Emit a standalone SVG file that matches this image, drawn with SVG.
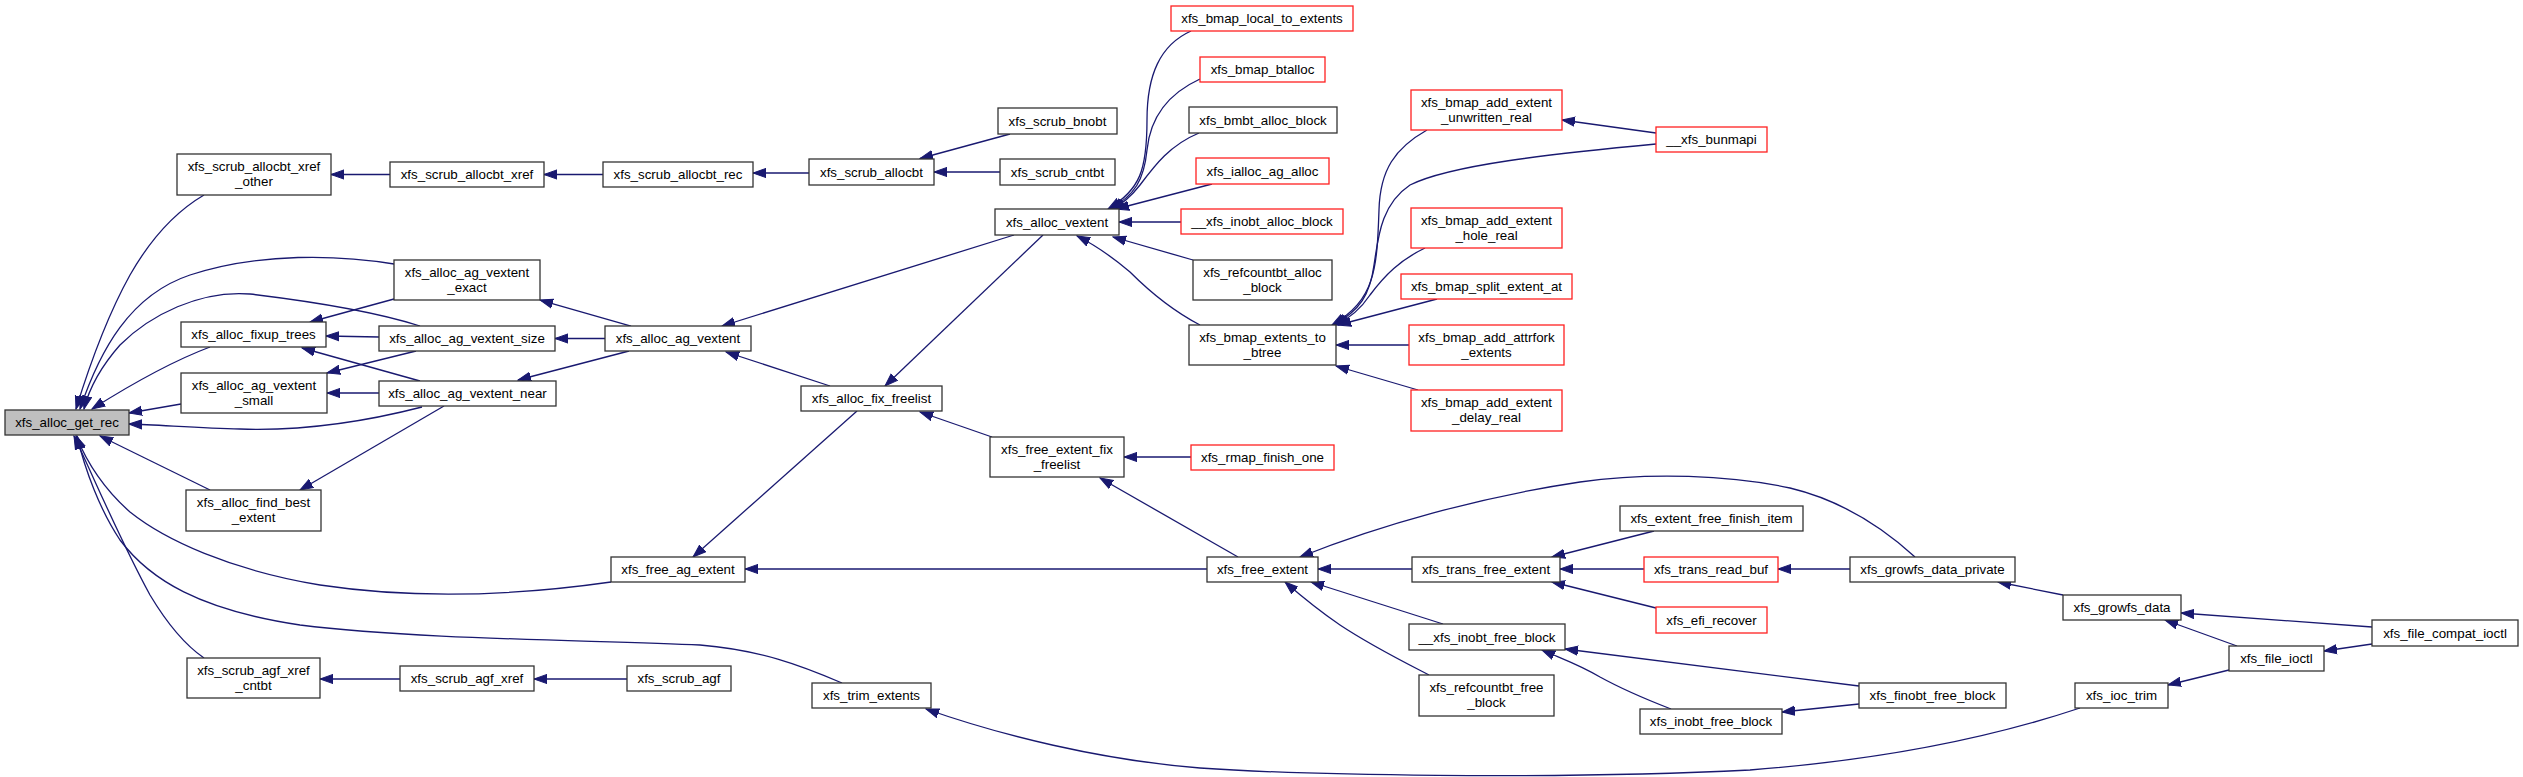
<svg xmlns="http://www.w3.org/2000/svg" width="2523" height="777" viewBox="0 0 2523 777">
<style>
.node rect{fill:#fff;stroke:#333;stroke-width:1.3}
.node.red rect{stroke:#ff2020}
.node.root rect{fill:#bfbfbf}
.node text{font-family:"Liberation Sans",Arial,sans-serif;font-size:13.33px;text-anchor:middle;fill:#000}
#edges path{fill:none;stroke:#191970;stroke-width:1.3;marker-end:url(#ah)}
</style>
<defs>
<marker id="ah" markerUnits="userSpaceOnUse" markerWidth="14" markerHeight="11" viewBox="0 0 14 11" refX="13" refY="5.5" orient="auto">
<path d="M0,0.9 L13,5.5 L0,10.1 z" fill="#191970" stroke="#191970" stroke-width="1"/>
</marker>
</defs>
<rect width="2523" height="777" fill="#fff"/>
<g id="edges">
<path d="M204,195 C175,212 150,240 130,275 C105,320 88,370 76,409"/>
<path d="M394,264 C340,255 260,252 190,275 C130,295 100,350 80,409"/>
<path d="M420,326 C370,310 300,300 250,294 C200,290 150,315 120,345 C105,362 90,385 84,409"/>
<path d="M210,347 C170,362 130,385 92,409"/>
<path d="M181,404 L129,413"/>
<path d="M422,407 C360,423 300,431 240,429 C200,428 160,425 129,424"/>
<path d="M210,490 L100,436"/>
<path d="M611,582 C520,595 420,600 320,585 C230,570 165,540 130,512 C105,490 88,465 76,436"/>
<path d="M842,683 C800,665 760,650 700,645 C600,640 420,640 300,625 C200,610 150,580 120,540 C100,510 85,470 77,436"/>
<path d="M204,658 C185,645 165,620 150,595 C120,540 95,480 74,436"/>
<path d="M390,174.5 L331,174.5"/>
<path d="M603,174.5 L544,174.5"/>
<path d="M809,173 L753,173"/>
<path d="M1010,134 L920,158.5"/>
<path d="M1000,172 L934,172"/>
<path d="M394,299 L310,322"/>
<path d="M379,337 L326,336"/>
<path d="M420,381 L302,348"/>
<path d="M416,351 L327,373"/>
<path d="M379,393 L327,393"/>
<path d="M631,326 L540,300"/>
<path d="M605,338.5 L555,338.5"/>
<path d="M629,351 L518,380"/>
<path d="M444,406 L300,490"/>
<path d="M1014,235 L722,326"/>
<path d="M830,386 L726,352"/>
<path d="M1043,235 L885,386"/>
<path d="M992,437 L920,412"/>
<path d="M857,411 L693,557"/>
<path d="M1207,569 L745,569"/>
<path d="M1191,457 L1124,457"/>
<path d="M1238,557 L1100,478"/>
<path d="M1191,31 C1160,45 1147,75 1147,120 C1147,170 1140,190 1108,209"/>
<path d="M1200,79 C1165,95 1150,120 1147,150 C1144,180 1135,195 1110,209"/>
<path d="M1199,133 C1170,145 1155,165 1140,185 C1130,198 1122,204 1112,209"/>
<path d="M1212,184 L1116,209"/>
<path d="M1181,222 L1119,222"/>
<path d="M1193,260 L1113,237"/>
<path d="M1200,325 C1175,312 1150,292 1130,272 C1110,255 1095,245 1077,236"/>
<path d="M1427,130 C1395,148 1380,170 1379,210 C1377,270 1375,300 1332,325"/>
<path d="M1656,144 C1550,154 1450,165 1410,185 C1380,205 1378,240 1374,265 C1370,295 1360,310 1334,325"/>
<path d="M1425,248 C1400,260 1385,275 1370,295 C1360,310 1350,318 1336,325"/>
<path d="M1437,299 L1338,325"/>
<path d="M1409,345 L1336,345"/>
<path d="M1418,390 L1336,366"/>
<path d="M1656,133 L1562,120"/>
<path d="M1412,569 L1318,569"/>
<path d="M1915,557 C1880,525 1840,500 1790,488 C1730,475 1650,472 1580,482 C1480,497 1380,525 1300,557"/>
<path d="M1443,624 L1311,582"/>
<path d="M1429,675 C1400,660 1370,645 1340,625 C1315,608 1300,595 1285,582"/>
<path d="M1654,531 L1552,557"/>
<path d="M1644,569 L1560,569"/>
<path d="M1656,608 L1552,582"/>
<path d="M1850,569 L1778,569"/>
<path d="M1859,686 L1565,649"/>
<path d="M1671,709 C1640,697 1620,688 1600,677 C1580,665 1565,660 1542,650"/>
<path d="M1859,704 L1782,712"/>
<path d="M2063,595 L1998,582"/>
<path d="M2372,627 L2181,613"/>
<path d="M2237,646 L2165,620"/>
<path d="M2372,644 L2324,651"/>
<path d="M2229,670 L2168,685"/>
<path d="M2080,708 C1990,738 1880,760 1750,770 C1550,780 1300,775 1200,768 C1100,760 1000,735 926,709"/>
<path d="M400,679 L320,679"/>
<path d="M627,679 L534,679"/>
</g>
<g id="n_get_rec" class="node root"><rect x="5" y="410" width="124" height="25"/><text x="67" y="427.2">xfs_alloc_get_rec</text></g>
<g id="n_xref_other" class="node"><rect x="177" y="154" width="154" height="41"/><text x="254" y="170.5">xfs_scrub_allocbt_xref</text><text x="254" y="185.5">_other</text></g>
<g id="n_xref" class="node"><rect x="390" y="162" width="154" height="25"/><text x="467" y="179.2">xfs_scrub_allocbt_xref</text></g>
<g id="n_rec" class="node"><rect x="603" y="162" width="150" height="25"/><text x="678" y="179.2">xfs_scrub_allocbt_rec</text></g>
<g id="n_allocbt" class="node"><rect x="809" y="159" width="125" height="26"/><text x="871.5" y="176.7">xfs_scrub_allocbt</text></g>
<g id="n_bnobt" class="node"><rect x="998" y="108" width="119" height="26"/><text x="1057.5" y="125.7">xfs_scrub_bnobt</text></g>
<g id="n_cntbt" class="node"><rect x="1000" y="159" width="115" height="26"/><text x="1057.5" y="176.7">xfs_scrub_cntbt</text></g>
<g id="n_exact" class="node"><rect x="394" y="260" width="146" height="40"/><text x="467" y="276.5">xfs_alloc_ag_vextent</text><text x="467" y="291.5">_exact</text></g>
<g id="n_fixup" class="node"><rect x="181" y="322" width="145" height="25"/><text x="253.5" y="339.2">xfs_alloc_fixup_trees</text></g>
<g id="n_size" class="node"><rect x="379" y="326" width="176" height="25"/><text x="467" y="343.2">xfs_alloc_ag_vextent_size</text></g>
<g id="n_ag_vextent" class="node"><rect x="605" y="326" width="146" height="25"/><text x="678" y="343.2">xfs_alloc_ag_vextent</text></g>
<g id="n_small" class="node"><rect x="181" y="373" width="146" height="40"/><text x="254" y="389.5">xfs_alloc_ag_vextent</text><text x="254" y="404.5">_small</text></g>
<g id="n_near" class="node"><rect x="379" y="381" width="177" height="25"/><text x="467.5" y="398.2">xfs_alloc_ag_vextent_near</text></g>
<g id="n_find_best" class="node"><rect x="186" y="490" width="135" height="41"/><text x="253.5" y="506.5">xfs_alloc_find_best</text><text x="253.5" y="521.5">_extent</text></g>
<g id="n_free_ag_extent" class="node"><rect x="611" y="557" width="134" height="25"/><text x="678" y="574.2">xfs_free_ag_extent</text></g>
<g id="n_agf_xref_cntbt" class="node"><rect x="187" y="658" width="133" height="40"/><text x="253.5" y="674.5">xfs_scrub_agf_xref</text><text x="253.5" y="689.5">_cntbt</text></g>
<g id="n_agf_xref" class="node"><rect x="400" y="666" width="134" height="25"/><text x="467" y="683.2">xfs_scrub_agf_xref</text></g>
<g id="n_agf" class="node"><rect x="627" y="666" width="104" height="25"/><text x="679" y="683.2">xfs_scrub_agf</text></g>
<g id="n_trim" class="node"><rect x="812" y="683" width="119" height="25"/><text x="871.5" y="700.2">xfs_trim_extents</text></g>
<g id="n_fix_freelist" class="node"><rect x="801" y="386" width="141" height="25"/><text x="871.5" y="403.2">xfs_alloc_fix_freelist</text></g>
<g id="n_fe_fix_freelist" class="node"><rect x="990" y="437" width="134" height="40"/><text x="1057" y="453.5">xfs_free_extent_fix</text><text x="1057" y="468.5">_freelist</text></g>
<g id="n_rmap" class="node red"><rect x="1191" y="445" width="143" height="25"/><text x="1262.5" y="462.2">xfs_rmap_finish_one</text></g>
<g id="n_free_extent" class="node"><rect x="1207" y="557" width="111" height="25"/><text x="1262.5" y="574.2">xfs_free_extent</text></g>
<g id="n_vextent" class="node"><rect x="995" y="209" width="124" height="26"/><text x="1057" y="226.7">xfs_alloc_vextent</text></g>
<g id="n_local" class="node red"><rect x="1171" y="6" width="182" height="25"/><text x="1262" y="23.2">xfs_bmap_local_to_extents</text></g>
<g id="n_btalloc" class="node red"><rect x="1200" y="57" width="125" height="25"/><text x="1262.5" y="74.2">xfs_bmap_btalloc</text></g>
<g id="n_bmbt" class="node"><rect x="1189" y="107" width="148" height="26"/><text x="1263" y="124.7">xfs_bmbt_alloc_block</text></g>
<g id="n_ialloc" class="node red"><rect x="1196" y="158" width="133" height="26"/><text x="1262.5" y="175.7">xfs_ialloc_ag_alloc</text></g>
<g id="n_inobt_alloc" class="node red"><rect x="1181" y="209" width="162" height="25"/><text x="1262" y="226.2">__xfs_inobt_alloc_block</text></g>
<g id="n_refcount_alloc" class="node"><rect x="1193" y="260" width="139" height="40"/><text x="1262.5" y="276.5">xfs_refcountbt_alloc</text><text x="1262.5" y="291.5">_block</text></g>
<g id="n_to_btree" class="node"><rect x="1189" y="325" width="147" height="40"/><text x="1262.5" y="341.5">xfs_bmap_extents_to</text><text x="1262.5" y="356.5">_btree</text></g>
<g id="n_unwritten" class="node red"><rect x="1411" y="90" width="151" height="40"/><text x="1486.5" y="106.5">xfs_bmap_add_extent</text><text x="1486.5" y="121.5">_unwritten_real</text></g>
<g id="n_bunmapi" class="node red"><rect x="1656" y="127" width="111" height="25"/><text x="1711.5" y="144.2">__xfs_bunmapi</text></g>
<g id="n_hole" class="node red"><rect x="1411" y="208" width="151" height="40"/><text x="1486.5" y="224.5">xfs_bmap_add_extent</text><text x="1486.5" y="239.5">_hole_real</text></g>
<g id="n_split" class="node red"><rect x="1401" y="274" width="171" height="25"/><text x="1486.5" y="291.2">xfs_bmap_split_extent_at</text></g>
<g id="n_attrfork" class="node red"><rect x="1409" y="325" width="155" height="40"/><text x="1486.5" y="341.5">xfs_bmap_add_attrfork</text><text x="1486.5" y="356.5">_extents</text></g>
<g id="n_delay" class="node red"><rect x="1411" y="390" width="151" height="41"/><text x="1486.5" y="406.5">xfs_bmap_add_extent</text><text x="1486.5" y="421.5">_delay_real</text></g>
<g id="n_trans_free" class="node"><rect x="1412" y="557" width="148" height="25"/><text x="1486" y="574.2">xfs_trans_free_extent</text></g>
<g id="n_finish_item" class="node"><rect x="1620" y="506" width="183" height="25"/><text x="1711.5" y="523.2">xfs_extent_free_finish_item</text></g>
<g id="n_read_buf" class="node red"><rect x="1644" y="557" width="134" height="25"/><text x="1711" y="574.2">xfs_trans_read_buf</text></g>
<g id="n_efi" class="node red"><rect x="1656" y="607" width="111" height="26"/><text x="1711.5" y="624.7">xfs_efi_recover</text></g>
<g id="n_inobt_free_int" class="node"><rect x="1409" y="624" width="156" height="26"/><text x="1487" y="641.7">__xfs_inobt_free_block</text></g>
<g id="n_refcount_free" class="node"><rect x="1419" y="675" width="135" height="41"/><text x="1486.5" y="691.5">xfs_refcountbt_free</text><text x="1486.5" y="706.5">_block</text></g>
<g id="n_inobt_free" class="node"><rect x="1640" y="709" width="142" height="25"/><text x="1711" y="726.2">xfs_inobt_free_block</text></g>
<g id="n_growfs_private" class="node"><rect x="1850" y="557" width="165" height="25"/><text x="1932.5" y="574.2">xfs_growfs_data_private</text></g>
<g id="n_finobt" class="node"><rect x="1859" y="683" width="147" height="25"/><text x="1932.5" y="700.2">xfs_finobt_free_block</text></g>
<g id="n_growfs_data" class="node"><rect x="2063" y="595" width="118" height="25"/><text x="2122" y="612.2">xfs_growfs_data</text></g>
<g id="n_compat" class="node"><rect x="2372" y="620" width="146" height="26"/><text x="2445" y="637.7">xfs_file_compat_ioctl</text></g>
<g id="n_file_ioctl" class="node"><rect x="2229" y="646" width="95" height="25"/><text x="2276.5" y="663.2">xfs_file_ioctl</text></g>
<g id="n_ioc_trim" class="node"><rect x="2075" y="683" width="93" height="25"/><text x="2121.5" y="700.2">xfs_ioc_trim</text></g>
</svg>
